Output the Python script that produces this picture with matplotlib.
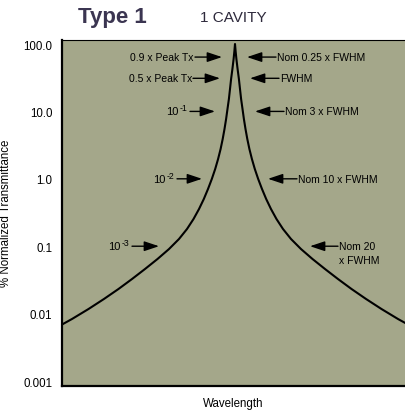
import matplotlib
matplotlib.use("Agg")
import matplotlib.pyplot as plt

# ---- data ----
# half-width offset from centre wavelength (arb. units) vs % transmittance
offsets = [0, 0.6, 1.4, 2.6, 3.9, 5.0, 6.1, 7.5, 8.9, 10.5, 12.3, 14.4, 16.9, 19.8, 23.2,
           27.0, 31.2, 36, 41.5, 48, 56, 66, 77.5, 90, 103, 116.5, 131, 146.5, 163, 172]
trans   = [100, 78.7, 59.8, 42.5, 30.3, 21.5, 15.3, 10.9, 7.71, 5.48, 3.90, 2.77, 1.97, 1.40, 0.993,
           0.706, 0.501, 0.356, 0.253, 0.180, 0.128, 0.0908, 0.0646, 0.0459, 0.0326, 0.0232,
           0.0165, 0.0117, 0.00832, 0.00702]
ytick_vals   = [100, 10, 1, 0.1, 0.01, 0.001]
ytick_labels = ["100.0", "10.0", "1.0", "0.1", "0.01", "0.001"]

left_labels = ["0.9 x Peak Tx", "0.5 x Peak Tx", ("10", "-1"), ("10", "-2"), ("10", "-3")]
left_levels = [64, 31, 10, 1.0, 0.1]
left_tips   = [-13, -15, -20, -33, -76]
left_tails  = [-40, -42, -45, -58, -103]

right_labels = ["Nom 0.25 x FWHM", "FWHM", "Nom 3 x FWHM", "Nom 10 x FWHM", ("Nom 20", "x FWHM")]
right_levels = [64, 31, 10, 1.0, 0.1]
right_tips   = [12, 15, 20, 33, 75]
right_tails  = [41, 44, 49, 62, 103]

plt.rcParams['font.family'] = ['Liberation Sans', 'DejaVu Sans']

W, H = 405, 414
fig = plt.figure(figsize=(W/100, H/100), dpi=100)
ax = fig.add_axes([62/W, (H-387)/H, (W-62)/W, (387-40.5)/H])
ax.set_facecolor('#A4A78A')

xs = [-o for o in offsets[::-1]] + offsets[1:]
ys = trans[::-1] + trans[1:]
ax.plot(xs, ys, color='black', lw=1.5, solid_joinstyle='round')

ax.set_yscale('log')
ax.set_xlim(-173, 170)
ax.set_ylim(10**(-3.074), 10**(2.067))
ax.set_yticks(ytick_vals)
ax.set_yticklabels(ytick_labels)
ax.minorticks_off()
ax.tick_params(axis='y', length=0, pad=7, labelsize=8.3)
ax.set_xticks([])

for s in ['left', 'bottom']:
    ax.spines[s].set_linewidth(1.6)
ax.spines['top'].set_linewidth(0.8)
ax.spines['right'].set_visible(False)

ax.set_ylabel('% Normalized Transmittance', fontsize=8.3)
ax.yaxis.set_label_coords((12 - 62) / (W - 62), 0.5)
ax.set_xlabel('Wavelength', fontsize=8.3, labelpad=8)

arrow = dict(arrowstyle='-|>,head_length=0.9,head_width=0.3', color='black', lw=1,
             shrinkA=0, shrinkB=0)
afs = 7.5
for lab, lvl, tip, tail in zip(left_labels, left_levels, left_tips, left_tails):
    ax.annotate('', xy=(tip, lvl), xytext=(tail, lvl), arrowprops=arrow)
    if isinstance(lab, tuple):
        base, sup = lab
        ax.annotate(sup, xy=(tail, lvl), xytext=(-2, 2.5), textcoords='offset points',
                    ha='right', va='center', fontsize=6.3)
        ax.annotate(base, xy=(tail, lvl), xytext=(-8.5, 0), textcoords='offset points',
                    ha='right', va='center', fontsize=afs + 0.5)
    else:
        ax.text(tail - 1, lvl, lab, ha='right', va='center', fontsize=afs)
for lab, lvl, tip, tail in zip(right_labels, right_levels, right_tips, right_tails):
    ax.annotate('', xy=(tip, lvl), xytext=(tail, lvl), arrowprops=arrow)
    if isinstance(lab, tuple):
        ax.text(tail + 1, lvl, lab[0], ha='left', va='center', fontsize=afs)
        ax.annotate(lab[1], xy=(tail + 1, lvl), xytext=(0, -10), textcoords='offset points',
                    ha='left', va='center', fontsize=afs)
    else:
        ax.text(tail + 1, lvl, lab, ha='left', va='center', fontsize=afs)

fig.text(78/W, 1 - 17/H, 'Type 1', fontsize=16, fontweight='bold', color='#3B3551',
         ha='left', va='center')
fig.text(200/W, 1 - 18/H, '1 CAVITY', fontsize=11, color='#2E2A3C', ha='left', va='center')

fig.savefig('out.png', dpi=100)
